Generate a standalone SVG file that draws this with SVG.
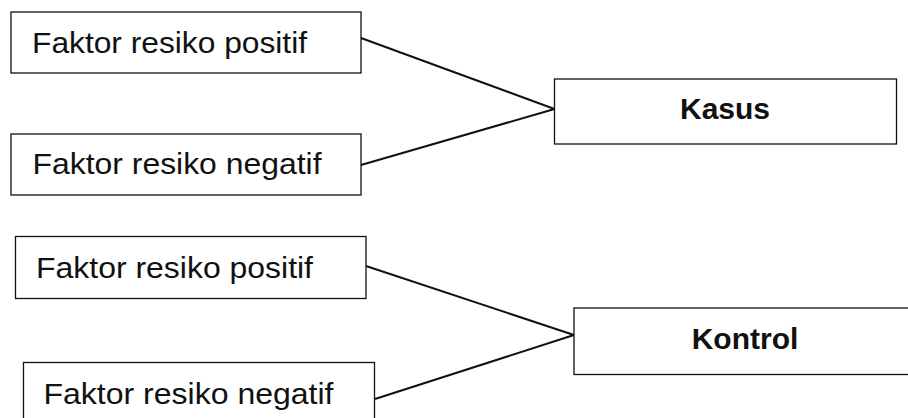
<svg xmlns="http://www.w3.org/2000/svg" width="908" height="418" viewBox="0 0 908 418">
  <style>
    .box { fill: #ffffff; stroke: #111111; stroke-width: 1.3; }
    .lbl { font-family: "Liberation Sans", Arial, sans-serif; font-size: 30px; fill: #111111; }
    .hd { font-family: "Liberation Sans", Arial, sans-serif; font-size: 30px; font-weight: bold; fill: #111111; text-anchor: middle; }
    .wire { stroke: #111111; stroke-width: 2; fill: none; }
  </style>
  <rect width="908" height="418" fill="#ffffff"/>
  <g id="connectors">
    <line class="wire" x1="361" y1="38" x2="554.5" y2="109"/>
    <line class="wire" x1="361" y1="165" x2="554.5" y2="109"/>
    <line class="wire" x1="366" y1="266" x2="574" y2="335"/>
    <line class="wire" x1="375" y1="399" x2="574" y2="335"/>
  </g>
  <g id="kasus-pos">
    <rect class="box" x="11" y="12" width="350" height="61"/>
    <text class="lbl" x="32" y="52.5" textLength="275" lengthAdjust="spacingAndGlyphs">Faktor resiko positif</text>
  </g>
  <g id="kasus-neg">
    <rect class="box" x="11" y="134" width="350" height="61"/>
    <text class="lbl" x="32.5" y="174" textLength="289" lengthAdjust="spacingAndGlyphs">Faktor resiko negatif</text>
  </g>
  <g id="kasus">
    <rect class="box" x="554.5" y="79" width="342" height="65"/>
    <text class="hd" x="725" y="118.5">Kasus</text>
  </g>
  <g id="kontrol-pos">
    <rect class="box" x="15.5" y="236.5" width="350.5" height="62"/>
    <text class="lbl" x="36" y="278" textLength="277" lengthAdjust="spacingAndGlyphs">Faktor resiko positif</text>
  </g>
  <g id="kontrol-neg">
    <rect class="box" x="23.5" y="362.5" width="351" height="62"/>
    <text class="lbl" x="43.5" y="403.5" textLength="290" lengthAdjust="spacingAndGlyphs">Faktor resiko negatif</text>
  </g>
  <g id="kontrol">
    <rect class="box" x="574" y="308" width="340" height="66.5"/>
    <text class="hd" x="745" y="349">Kontrol</text>
  </g>
</svg>
